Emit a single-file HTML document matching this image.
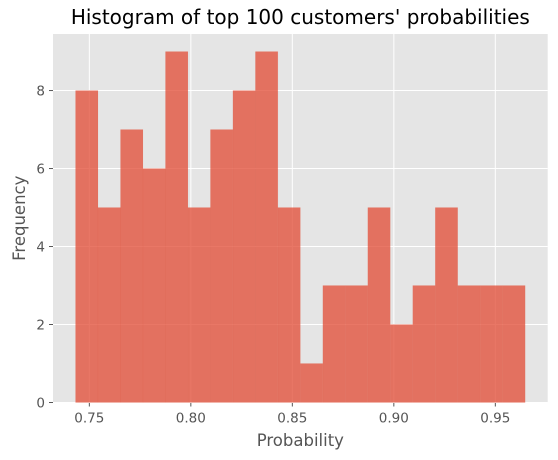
<!DOCTYPE html>
<html><head><meta charset="utf-8"><style>body{margin:0;background:#fff}svg{display:block;font-family:"DejaVu Sans","Liberation Sans",sans-serif}</style></head>
<body>
<svg id="c" width="558" height="460"></svg>
<script>
const counts=[8,5,7,6,9,5,7,8,9,5,1,3,3,5,2,3,5,3,3,3];
const binStart=0.7432, binEnd=0.9647;
const xTicks=[0.75,0.80,0.85,0.90,0.95];
const xTickLabels=["0.75","0.80","0.85","0.90","0.95"];
const yTicks=[0,2,4,6,8];
const L=53,R=547.7,T=34,B=402.5;
const xmin=0.7321,xmax=0.9758,ymax=9.45;
const X=v=>L+(v-xmin)/(xmax-xmin)*(R-L);
const Y=v=>B-v/ymax*(B-T);
const s=document.getElementById('c');const NS='http://www.w3.org/2000/svg';
function mk(t,a,p){const e=document.createElementNS(NS,t);for(const k in a)e.setAttribute(k,a[k]);(p||s).appendChild(e);return e;}
const bg=mk('rect',{x:L,y:T,width:R-L,height:B-T,fill:'#e5e5e5'});


xTicks.forEach((t,i)=>{const g=mk('line',{x1:X(t),x2:X(t),y1:T,y2:B,stroke:'#fff','stroke-width':1});


const tk=mk('line',{x1:X(t),x2:X(t),y1:B,y2:B+4,stroke:'#555'});


const tx=mk('text',{x:X(t),y:B+20,'text-anchor':'middle','font-size':13.5,fill:'#555'});tx.textContent=xTickLabels[i];

});
yTicks.forEach(t=>{const g=mk('line',{x1:L,x2:R,y1:Y(t),y2:Y(t),stroke:'#fff','stroke-width':1});


const tk=mk('line',{x1:L-4,x2:L,y1:Y(t),y2:Y(t),stroke:'#555'});


const tx=mk('text',{x:L-8,y:Y(t)+5,'text-anchor':'end','font-size':13.5,fill:'#555'});tx.textContent=String(t);

});
const w=(binEnd-binStart)/counts.length;
counts.forEach((c,i)=>{const x0=X(binStart+i*w),x1=X(binStart+(i+1)*w);
const r=mk('rect',{x:x0,y:Y(c),width:x1-x0,height:B-Y(c),fill:'#E24A33','fill-opacity':0.75,stroke:'#E24A33','stroke-opacity':0.1,'stroke-width':0.5});

});
const ti=mk('text',{x:(L+R)/2,y:24,'text-anchor':'middle','font-size':20,fill:'#000'});ti.textContent="Histogram of top 100 customers' probabilities";


const xl=mk('text',{x:(L+R)/2,y:446,'text-anchor':'middle','font-size':16.5,fill:'#555'});xl.textContent='Probability';


const yl=mk('text',{x:0,y:0,'text-anchor':'middle','font-size':16.5,fill:'#555',transform:`translate(25,${(T+B)/2}) rotate(-90)`});yl.textContent='Frequency';


</script>
</body></html>
